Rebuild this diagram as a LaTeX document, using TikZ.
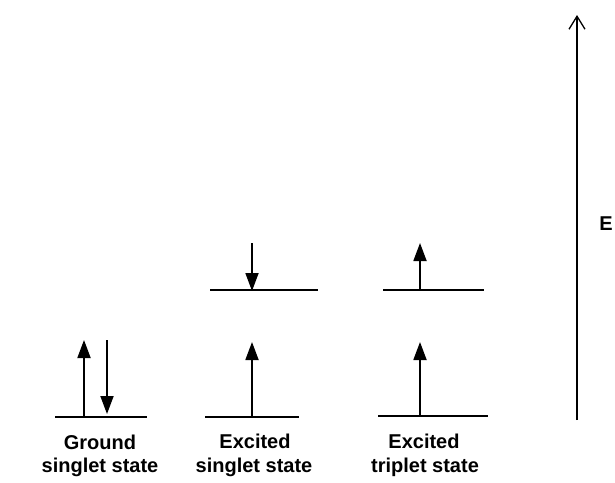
\documentclass[tikz,border=0pt]{standalone}
\usepackage{fontspec}
\setmainfont{Liberation Sans}
\usetikzlibrary{arrows.meta}
\begin{document}
\begin{tikzpicture}[x=1pt,y=-1pt,
  level/.style={line width=2.2pt},
  spin/.style={line width=1.8pt,-{Triangle[length=18pt,width=13pt]}},
  lbl/.style={font=\fontsize{20}{22}\selectfont\bfseries,align=center,inner sep=0pt},
  axis/.style={line width=1.6pt,-{Straight Barb[length=13pt,width=16pt,line width=1.3pt]}}]
\useasboundingbox (0,0) rectangle (615,482);
% ground
\coordinate (g1) at (55,417); \coordinate (g2) at (147,417);
\draw[level] (g1) -- (g2);
\coordinate (gua) at (84,417); \coordinate (gub) at (84,340);
\draw[spin] (gua) -- (gub);
\coordinate (gda) at (107,340); \coordinate (gdb) at (107,414);
\draw[spin] (gda) -- (gdb);
\node[lbl] (gl1) at (100,442) {Ground};
\node[lbl] (gl2) at (100,467) {singlet state};
% excited singlet
\coordinate (s1) at (205,417); \coordinate (s2) at (299,417);
\draw[level] (s1) -- (s2);
\coordinate (s3) at (210,290); \coordinate (s4) at (318,290);
\draw[level] (s3) -- (s4);
\coordinate (sua) at (252,417); \coordinate (sub) at (252,342);
\draw[spin] (sua) -- (sub);
\coordinate (sda) at (252,243); \coordinate (sdb) at (252,291);
\draw[spin] (sda) -- (sdb);
\node[lbl] (sl1) at (255,441) {Excited};
\node[lbl] (sl2) at (254,467) {singlet state};
% excited triplet
\coordinate (t1) at (378,416); \coordinate (t2) at (488,416);
\draw[level] (t1) -- (t2);
\coordinate (t3) at (383,290); \coordinate (t4) at (484,290);
\draw[level] (t3) -- (t4);
\coordinate (tua) at (420,415); \coordinate (tub) at (420,342);
\draw[spin] (tua) -- (tub);
\coordinate (tda) at (420,290); \coordinate (tdb) at (420,243);
\draw[spin] (tda) -- (tdb);
\node[lbl] (tl1) at (424,441) {Excited};
\node[lbl] (tl2) at (425,467) {triplet state};
% energy axis
\coordinate (ea) at (577,420); \coordinate (eb) at (577,15);
\draw[axis] (ea) -- (eb);
\node[lbl] (E) at (606,224) {E};
\end{tikzpicture}
\end{document}
